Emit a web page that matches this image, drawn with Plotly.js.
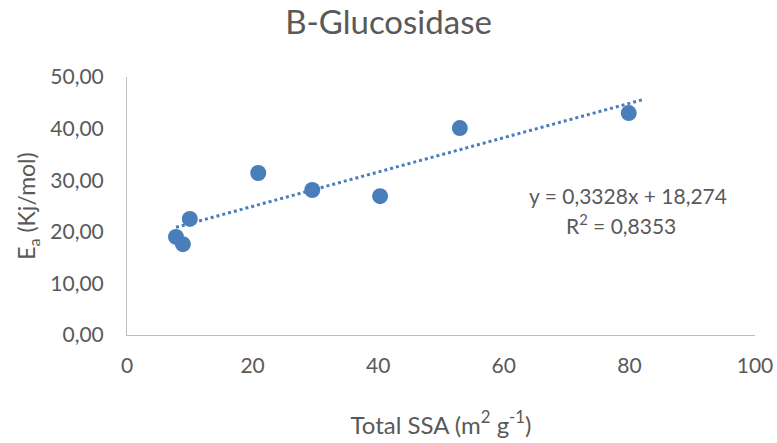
<!DOCTYPE html>
<html>
<head>
<meta charset="utf-8">
<script src="https://cdn.plot.ly/plotly-3.0.1.min.js"></script>
<style>html,body{margin:0;padding:0;background:#fff;}#chart{width:777px;height:443px;}</style>
</head>
<body>
<div id="chart"></div>
<script>
const ssa = [7.8, 8.9, 10.0, 20.9, 29.5, 40.3, 53.0, 79.9];
const ea = [19.0, 17.6, 22.5, 31.4, 28.1, 26.9, 40.1, 43.0];
const trendSlope = 0.3328;
const trendIntercept = 18.274;
const trendRange = [7.8, 82];
const xTicks = [0, 20, 40, 60, 80, 100];
const yTicks = [0, 10, 20, 30, 40, 50];

const blue = '#4a7ebb';
const grey = '#595959';
const font = 'Lato, "Open Sans", sans-serif';

const trendY = trendRange.map(x => trendSlope * x + trendIntercept);

const data = [
  {
    x: trendRange, y: trendY, mode: 'lines', type: 'scatter',
    line: {color: blue, width: 3, dash: 'dot'}, hoverinfo: 'skip', showlegend: false
  },
  {
    x: ssa, y: ea, mode: 'markers', type: 'scatter',
    marker: {color: blue, size: 16}, showlegend: false
  }
];

const layout = {
  width: 777, height: 443,
  margin: {l: 127, r: 22, t: 77, b: 108},
  paper_bgcolor: '#fff', plot_bgcolor: '#fff',
  separators: ', ',
  font: {family: font, color: grey, size: 21},
  title: {text: 'B-Glucosidase', x: 0.5, xanchor: 'center', y: 0.95, yanchor: 'middle',
          font: {family: font, size: 33, color: grey}},
  xaxis: {
    range: [0, 100], tickvals: xTicks, ticktext: xTicks.map(String),
    showgrid: false, zeroline: false, showline: true, linecolor: '#bfbfbf', linewidth: 1,
    ticks: '', ticklabelstandoff: 12, tickfont: {size: 21, color: grey},
    title: {text: 'Total SSA (m<sup>2</sup> g<sup>-1</sup>)', font: {size: 24, color: grey}, standoff: 40}
  },
  yaxis: {
    range: [0, 50], tickvals: yTicks, tickformat: '.2f',
    showgrid: false, zeroline: false, showline: true, linecolor: '#bfbfbf', linewidth: 1,
    ticks: '', ticklabelstandoff: 18, tickfont: {size: 21, color: grey},
    title: {text: 'E<sub>a</sub> (Kj/mol)', font: {size: 23, color: grey}, standoff: 8}
  },
  annotations: [
    {xref: 'paper', yref: 'paper', x: (628 - 127) / 628, y: (335 - 195) / 258,
     text: 'y = 0,3328x + 18,274', showarrow: false, xanchor: 'center', yanchor: 'middle',
     font: {size: 21, color: grey}},
    {xref: 'paper', yref: 'paper', x: (621 - 127) / 628, y: (335 - 224) / 258,
     text: 'R<sup>2</sup> = 0,8353', showarrow: false, xanchor: 'center', yanchor: 'middle',
     font: {size: 21, color: grey}}
  ]
};

Plotly.newPlot('chart', data, layout, {displayModeBar: false, staticPlot: true});
</script>
</body>
</html>
